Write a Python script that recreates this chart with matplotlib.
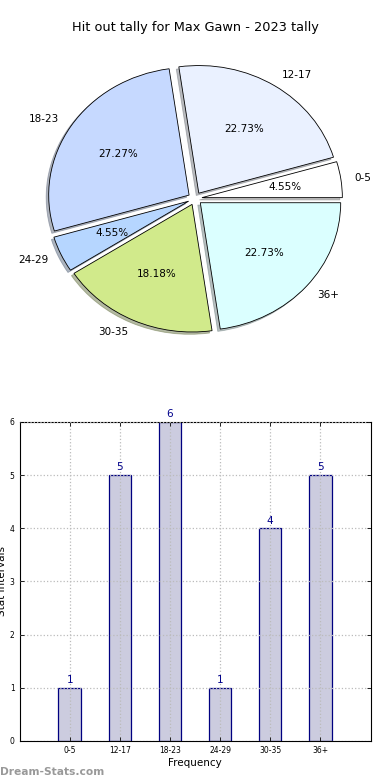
import numpy as np
import matplotlib
matplotlib.use("Agg")
from matplotlib import pyplot as plt

labels = ['0-5', '12-17', '18-23', '24-29', '30-35', '36+']
counts = [1, 5, 6, 1, 4, 5]
pie_colors = ['#ffffff', '#eaf1ff', '#c6d9ff', '#b6d6ff', '#d1ea8b', '#dbffff']

fig, (ax1, ax2) = plt.subplots(2, 1, figsize=(3.9, 7.8), dpi=100)
plt.subplots_adjust(left=0.05, right=0.95, bottom=0.05, top=0.95, hspace=0.2)

# pie (old style, not forced to be round)
wedges, texts, autotexts = ax1.pie(
    counts, labels=labels, colors=pie_colors, explode=[0.05] * len(counts),
    autopct='%.2f%%', shadow={'ox': -0.013, 'oy': -0.013, 'shade': 0.5},
    startangle=0,
    wedgeprops={'edgecolor': 'black', 'linewidth': 0.6},
    textprops={'fontsize': 7.5})
ax1.set_aspect('auto')
ax1.set_xlim(-1.25, 1.25)
ax1.set_ylim(-1.25, 1.25)
ax1.set_title('Hit out tally for Max Gawn - 2023 tally', fontsize=9.3)

# bars
x = np.arange(len(labels))
bars = ax2.bar(x, counts, width=0.45, color='#ccccdf', edgecolor='#000080', linewidth=0.9)
for xi, c in zip(x, counts):
    ax2.text(xi, c + 0.05, str(c), ha='center', va='bottom', color='#00008b', fontsize=7.5)
ax2.set_xlim(-1, 6)
ax2.set_ylim(0, 6)
ax2.set_xticks(x)
ax2.set_xticklabels(labels, fontsize=5.5)
ax2.set_yticks(range(7))
ax2.tick_params(axis='y', labelsize=5.5)
ax2.tick_params(direction='in', top=True, right=True, length=3, width=0.6)
ax2.set_axisbelow(False)
ax2.grid(True, linestyle=':', color='#bbbbbb', linewidth=0.9)
ax2.set_xlabel('Frequency', fontsize=7.5, labelpad=2)
ax2.set_ylabel('Stat Intervals', fontsize=7.5, labelpad=2)
for s in ax2.spines.values():
    s.set_linewidth(0.8)

fig.text(0.0, 0.004, 'Dream-Stats.com', fontsize=7.7, color='#999999', fontweight='bold',
         ha='left', va='bottom')

fig.savefig('out.png', dpi=100)
